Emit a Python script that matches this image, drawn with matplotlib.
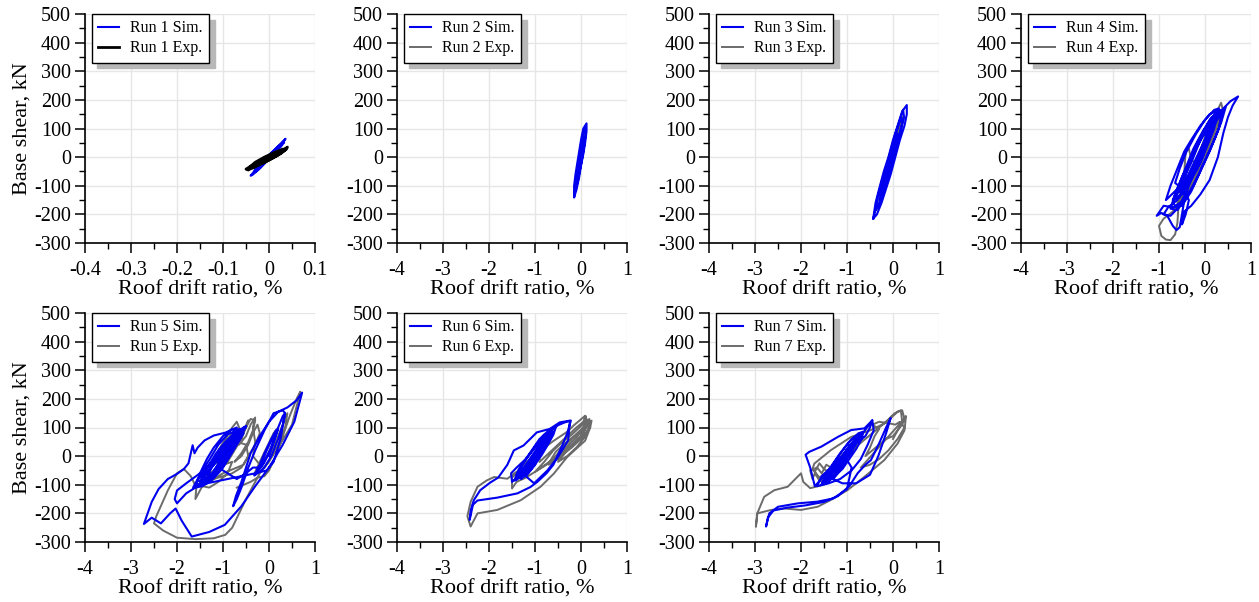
import matplotlib
matplotlib.use("Agg")
import matplotlib.pyplot as plt
from matplotlib.ticker import MultipleLocator, FixedLocator, FixedFormatter

plt.rcParams['font.family'] = ['Liberation Serif', 'DejaVu Serif']
plt.rcParams['axes.unicode_minus'] = False

# ---------------- data ----------------
run_names = ["Run 1", "Run 2", "Run 3", "Run 4", "Run 5", "Run 6", "Run 7"]

y_ticks = [-300, -200, -100, 0, 100, 200, 300, 400, 500]
y_ticklabels = ["-300", "-200", "-100", "0", "100", "200", "300", "400", "500"]
x_ticks_run1 = [-0.4, -0.3, -0.2, -0.1, 0.0, 0.1]
x_ticklabels_run1 = ["-0.4", "-0.3", "-0.2", "-0.1", "0", "0.1"]
x_ticks_other = [-4, -3, -2, -1, 0, 1]
x_ticklabels_other = ["-4", "-3", "-2", "-1", "0", "1"]

# (roof drift ratio %, base shear kN) pairs
run1_sim = [(0, 0), (0.01, 15), (0.02, 32), (0.03, 50), (0.036, 64), (0.03, 55), (0.015, 30), (0.0, 8),
            (-0.015, -20), (-0.03, -45), (-0.04, -65), (-0.036, -62), (-0.02, -40), (-0.005, -15),
            (0.01, 10), (0.025, 35), (0.033, 52), (0.025, 44), (0.01, 20), (-0.005, -2), (-0.02, -28),
            (-0.032, -50), (-0.028, -50), (-0.015, -30), (0.0, -5), (0.015, 22), (0.028, 45), (0.02, 38),
            (0.005, 12), (-0.01, -12), (-0.022, -35), (-0.015, -28), (0.0, -5), (0.01, 12), (0.0, 0)]
run1_exp = [(0, 0), (0.015, 12), (0.03, 25), (0.04, 35), (0.038, 28), (0.02, 12), (0.0, -5), (-0.02, -18),
            (-0.04, -32), (-0.05, -42), (-0.045, -45), (-0.03, -32), (-0.01, -18), (0.01, -2), (0.025, 12),
            (0.035, 25), (0.03, 28), (0.01, 15), (-0.01, 0), (-0.03, -18), (-0.042, -35), (-0.035, -38),
            (-0.02, -25), (0.0, -10), (0.02, 8), (0.033, 22), (0.025, 22), (0.005, 8), (-0.015, -8),
            (-0.03, -25), (-0.025, -30), (-0.01, -18), (0.005, -5), (0.02, 10), (0.01, 8), (0.0, 0)]

run2_sim = [(-0.15, -140), (-0.15, -100), (-0.12, -60), (-0.08, -20), (-0.04, 20), (0.0, 60), (0.05, 100),
            (0.12, 118), (0.12, 90), (0.09, 50), (0.05, 10), (0.0, -30), (-0.04, -70), (-0.1, -115),
            (-0.15, -140),
            (-0.13, -120), (-0.1, -80), (-0.07, -40), (-0.03, 0), (0.01, 40), (0.05, 80), (0.1, 105),
            (0.1, 80), (0.07, 40), (0.03, 0), (-0.02, -40), (-0.07, -85), (-0.12, -115),
            (-0.1, -90), (-0.06, -50), (-0.02, -10), (0.02, 30), (0.06, 70), (0.07, 55), (0.04, 15),
            (0.0, -25), (-0.05, -65), (0.0, 0)]
run2_exp = [(0, 0), (0.03, 40), (0.07, 80), (0.1, 95), (0.07, 60), (0.02, 5), (-0.04, -50), (-0.1, -105),
            (-0.13, -115), (-0.1, -80), (-0.05, -25), (0.01, 30), (0.06, 70), (0.04, 50), (-0.02, -10),
            (-0.07, -65), (-0.1, -90), (-0.05, -40), (0.02, 15), (0.0, 0)]

run3_sim = [(-0.43, -215), (-0.38, -160), (-0.3, -110), (-0.2, -50), (-0.1, 0), (0.0, 60), (0.1, 110),
            (0.2, 160), (0.3, 182), (0.3, 150), (0.25, 110), (0.15, 60), (0.05, 0), (-0.05, -60),
            (-0.15, -110), (-0.25, -160), (-0.35, -200), (-0.43, -215),
            (-0.38, -185), (-0.33, -140), (-0.25, -90), (-0.15, -40), (-0.05, 20), (0.05, 80), (0.15, 130),
            (0.22, 165), (0.24, 140), (0.18, 100), (0.1, 50), (0.0, -10), (-0.1, -70), (-0.2, -120),
            (-0.3, -170), (-0.38, -185),
            (-0.3, -160), (-0.25, -110), (-0.17, -60), (-0.08, -10), (0.02, 50), (0.1, 100), (0.18, 140),
            (0.2, 120), (0.12, 70), (0.05, 20), (-0.05, -40), (-0.15, -100), (-0.25, -140),
            (-0.2, -100), (-0.12, -50), (-0.03, 0), (0.05, 50), (0.1, 80), (0.08, 50), (0.0, 0),
            (-0.08, -50), (-0.15, -80), (0.0, 0)]
run3_exp = [(0, 0), (0.06, 50), (0.14, 110), (0.2, 140), (0.16, 100), (0.08, 40), (-0.02, -20),
            (-0.12, -80), (-0.25, -150), (-0.36, -185), (-0.33, -140), (-0.24, -80), (-0.13, -20),
            (-0.02, 40), (0.08, 95), (0.13, 80), (0.05, 20), (-0.06, -50), (-0.17, -110), (-0.28, -150),
            (-0.23, -100), (-0.12, -40), (0.0, 0)]

run4_sim = [(-0.15, 0), (0.0, 60), (0.2, 130), (0.4, 170), (0.45, 175), (0.35, 120), (0.2, 60), (0.0, -10),
            (-0.2, -80), (-0.4, -140), (-0.6, -185), (-0.75, -180),
            (-0.65, -130), (-0.5, -70), (-0.3, 0), (-0.1, 70), (0.1, 130), (0.3, 165), (0.4, 160),
            (0.3, 100), (0.1, 20), (-0.1, -50), (-0.3, -120), (-0.5, -170), (-0.7, -175),
            (-0.9, -170), (-1.05, -205), (-0.95, -195), (-0.82, -205), (-0.7, -240), (-0.62, -255),
            (-0.55, -245), (-0.5, -200), (-0.45, -150), (-0.35, -100), (-0.2, -40), (0.0, 40), (0.2, 110),
            (0.4, 170), (0.55, 195), (0.72, 212), (0.6, 180), (0.5, 140), (0.4, 85), (0.28, 0),
            (0.1, -80), (-0.1, -130), (-0.3, -170), (-0.45, -190), (-0.5, -235), (-0.42, -200),
            (-0.35, -150),
            (-0.5, -110), (-0.65, -90), (-0.55, -40), (-0.4, 20), (-0.2, 80), (0.0, 130), (0.2, 165),
            (0.3, 170), (0.35, 150), (0.3, 100), (0.15, 40), (-0.05, -30), (-0.25, -100), (-0.45, -150),
            (-0.65, -170), (-0.7, -160),
            (-0.6, -110), (-0.45, -60), (-0.3, 0), (-0.1, 60), (0.1, 110), (0.25, 140), (0.2, 100),
            (0.05, 40), (-0.1, -20), (-0.3, -80), (-0.5, -130), (-0.55, -120),
            (-0.45, -70), (-0.3, -20), (-0.15, 40), (0.0, 90), (0.15, 120), (0.1, 80), (-0.05, 20),
            (-0.2, -40), (-0.35, -90), (-0.4, -80),
            (-0.85, -150), (-0.75, -100), (-0.6, -40), (-0.45, 20), (-0.3, 60), (-0.1, 110), (0.1, 150),
            (0.25, 160), (0.2, 120), (0.0, 50), (-0.2, -20), (-0.4, -90), (-0.6, -150), (-0.8, -175),
            (-0.9, -200), (-0.75, -205), (-0.6, -180), (-0.4, -120),
            (-0.7, -150), (-0.55, -90), (-0.4, -30), (-0.25, 30), (-0.05, 90), (0.15, 140), (0.3, 155),
            (0.2, 110), (0.0, 40), (-0.15, -20), (-0.35, -85), (-0.55, -140), (-0.7, -150),
            (-0.6, -130), (-0.5, -80), (-0.35, -20), (-0.2, 40), (0.0, 100), (0.2, 140), (0.1, 90),
            (-0.05, 30), (-0.2, -30), (-0.4, -90), (-0.55, -120),
            (-0.5, -100), (-0.4, -50), (-0.25, 10), (-0.1, 60), (0.05, 100), (0.0, 60), (-0.15, 0),
            (-0.3, -50), (-0.45, -90),
            (-0.3, -40), (-0.15, 10), (0.0, 60), (0.05, 50), (-0.05, 0), (-0.2, -50), (-0.25, -40),
            (-0.15, 0)]
run4_exp = [(-0.15, 0), (0.0, 70), (0.2, 140), (0.35, 190), (0.38, 170), (0.3, 120), (0.1, 40), (-0.1, -30),
            (-0.3, -100), (-0.5, -150), (-0.7, -190), (-0.9, -215), (-1.0, -240), (-0.95, -275),
            (-0.85, -288), (-0.75, -290), (-0.65, -270), (-0.6, -230), (-0.58, -180), (-0.5, -130),
            (-0.35, -70), (-0.15, 10), (0.05, 80), (0.25, 140), (0.3, 130), (0.15, 70), (-0.05, 0),
            (-0.25, -70), (-0.45, -130), (-0.6, -160), (-0.5, -110), (-0.45, -50), (-0.42, 18),
            (-0.35, 30), (-0.3, -10), (-0.2, -20), (-0.05, 40), (0.1, 90), (0.0, 40), (-0.15, -20),
            (-0.3, -70)]

run5_sim = [(0, 0), (0.1, 50), (0.2, 100), (0.3, 140), (0.35, 150), (0.3, 110), (0.2, 60), (0.05, 0),
            (-0.1, -40), (-0.25, -60), (-0.32, -68), (-0.2, -30), (-0.1, 10), (0.05, 60), (0.15, 90),
            (0.2, 95), (0.12, 55), (0.0, 10), (-0.15, -35), (-0.25, -50), (-0.15, -20), (-0.05, 20),
            (0.1, 70), (0.15, 80), (0.05, 30), (-0.1, -20), (-0.2, -40),
            (-0.35, -40), (-0.5, -60), (-0.7, -80),
            (-0.9, -60), (-1.1, -40), (-1.3, -75), (-1.5, -95), (-1.65, -110), (-1.55, -80), (-1.35, -40),
            (-1.1, 10), (-0.9, 50), (-0.7, 85), (-0.5, 105), (-0.6, 80), (-0.8, 30), (-1.0, -20),
            (-1.2, -60), (-1.4, -90), (-1.45, -80), (-1.3, -45), (-1.1, 0), (-0.9, 40), (-0.7, 75),
            (-0.55, 100), (-0.65, 70), (-0.85, 20), (-1.05, -30), (-1.25, -70), (-1.45, -95), (-1.4, -70),
            (-1.2, -30), (-1.0, 20), (-0.8, 60), (-0.6, 95), (-0.7, 60), (-0.9, 10), (-1.1, -40),
            (-1.3, -80), (-1.35, -60), (-1.15, -20), (-0.95, 25), (-0.75, 70), (-0.8, 40), (-1.0, -10),
            (-1.2, -50), (-1.1, -30), (-0.9, 10), (-0.7, 50), (-0.6, 80), (-0.5, 105),
            (-0.6, 70), (-0.75, 30), (-0.9, -10), (-1.05, -50), (-1.25, -85), (-1.45, -105), (-1.6, -110),
            (-1.5, -60), (-1.35, -10), (-1.2, 30), (-1.0, 70), (-0.8, 95), (-0.55, 80), (-0.7, 40),
            (-0.85, 0), (-1.0, -40), (-1.2, -75), (-1.4, -95), (-1.55, -85), (-1.4, -40), (-1.25, 0),
            (-1.1, 40), (-0.9, 75), (-0.65, 95), (-0.65, 75), (-0.8, 45), (-0.95, 5), (-1.1, -35),
            (-1.3, -70), (-1.5, -90), (-1.45, -70), (-1.3, -30), (-1.15, 10), (-0.95, 50), (-0.75, 80),
            (-0.75, 40), (-0.9, 0), (-1.05, -35), (-1.2, -65), (-1.35, -80), (-1.25, -40), (-1.1, 0),
            (-0.95, 35), (-0.8, 60), (-0.95, 10), (-1.05, -20), (-1.15, -45), (-1.1, -20), (-1.0, 10),
            (-0.7, 100), (-0.95, 82), (-1.2, 72), (-1.4, 55), (-1.55, 30), (-1.62, 10), (-1.66, 38),
            (-1.7, 10), (-1.75, -25), (-1.85, -45), (-2.0, -62), (-2.2, -80), (-2.4, -115), (-2.55, -160),
            (-2.72, -237),
            (-2.55, -215), (-2.35, -235), (-2.15, -200), (-2.03, -183), (-1.9, -225), (-1.68, -281),
            (-1.3, -265), (-0.96, -240), (-0.6, -175), (-0.3, -105), (0.0, -40), (0.3, 40), (0.55, 120),
            (0.72, 222),
            (0.6, 195), (0.4, 170), (0.2, 155), (0.0, 120), (-0.2, 70), (-0.4, 10), (-0.5, -40),
            (-0.6, -90), (-0.72, -140), (-0.78, -175), (-0.7, -150), (-0.6, -110), (-0.45, -40),
            (-0.3, 20), (-0.1, 90), (0.1, 150), (0.3, 160), (0.35, 150), (0.25, 60), (0.1, -20),
            (-0.05, -50),
            (-0.3, -60), (-0.6, -70), (-0.9, -80), (-1.2, -90), (-1.5, -100), (-1.8, -130), (-2.0, -165),
            (-2.05, -150), (-2.0, -120), (-1.8, -95), (-1.5, -60), (-1.2, -20), (-1.0, 10)]
run5_exp = [(0, 0), (0.15, 50), (0.3, 110), (0.4, 150), (0.35, 100), (0.2, 40), (0.0, -20), (-0.15, -50),
            (-0.3, -55), (-0.2, -20), (-0.05, 30), (0.1, 80), (0.2, 100), (0.1, 50), (-0.05, 0),
            (-0.2, -30),
            (-0.35, 0), (-0.3, 50), (-0.35, 100), (-0.3, 135), (-0.4, 110), (-0.5, 70), (-0.65, 40),
            (-0.55, 90), (-0.45, 125), (-0.5, 100), (-0.65, 70), (-0.8, 30), (-0.9, 0), (-0.75, 40),
            (-0.6, 80), (-0.7, 120), (-0.8, 100), (-0.95, 60), (-1.1, 20), (-0.95, 50), (-0.8, 80),
            (-0.9, 40), (-1.05, 0), (-1.2, -30), (-1.05, -10), (-0.85, 20), (-0.7, 50), (-0.5, 40),
            (-0.45, 0), (-0.6, -40), (-0.8, -60), (-1.0, -70), (-1.2, -80), (-1.4, -95), (-1.5, -100),
            (-1.35, -70), (-1.2, -50), (-1.0, -30), (-0.8, -20), (-0.9, -60), (-1.1, -90), (-1.3, -110),
            (-1.45, -105),
            (-0.9, -20), (-0.75, 20), (-0.6, 60), (-0.5, 100), (-0.4, 130), (-0.3, 125), (-0.35, 90),
            (-0.45, 50), (-0.6, 10), (-0.75, -20), (-0.6, 0), (-0.45, 40), (-0.35, 80), (-0.25, 110),
            (-0.2, 80), (-0.3, 40), (-0.45, 0), (-0.55, -30), (-1.0, -60), (-1.45, -105),
            (-1.6, -150), (-1.58, -110), (-1.7, -70), (-1.85, -45), (-2.0, -60), (-2.2, -120),
            (-2.45, -210), (-2.5, -235), (-2.3, -260), (-2.0, -285), (-1.6, -290), (-1.2, -287),
            (-0.95, -275), (-0.8, -250), (-0.5, -150), (-0.2, -60), (0.2, 30), (0.5, 110), (0.68, 225),
            (0.6, 200), (0.45, 140), (0.3, 70), (0.15, 0), (0.0, -50), (-0.1, -70), (-0.25, -75),
            (-0.4, -90), (-0.55, -100), (-0.7, -110)]

run6_sim = [(-1.0, 0), (-0.85, 30), (-0.7, 60), (-0.6, 85), (-0.65, 70), (-0.8, 35), (-0.95, 0), (-1.1, -35),
            (-1.25, -65), (-1.4, -80), (-1.35, -60), (-1.2, -30), (-1.05, 5), (-0.9, 40), (-0.75, 70),
            (-0.62, 95), (-0.7, 70), (-0.85, 30), (-1.0, -5), (-1.15, -40), (-1.3, -70), (-1.42, -85),
            (-1.35, -70), (-1.2, -40), (-1.05, -5), (-0.9, 30), (-0.75, 60), (-0.65, 80), (-0.75, 50),
            (-0.9, 15), (-1.05, -20), (-1.2, -55), (-1.3, -60), (-1.15, -25), (-1.0, 10), (-0.85, 45),
            (-0.7, 75), (-0.8, 45), (-0.95, 10), (-1.1, -25), (-1.25, -50), (-1.1, -20), (-0.95, 15),
            (-0.8, 45), (-0.9, 20), (-1.05, -10), (-1.2, -40),
            (-1.45, -85), (-1.35, -45), (-1.2, -10), (-1.05, 25), (-0.9, 60), (-0.7, 90), (-0.55, 100),
            (-0.6, 75), (-0.72, 40), (-0.85, 5), (-1.0, -30), (-1.15, -60), (-1.3, -80), (-1.4, -65),
            (-1.25, -25), (-1.1, 10), (-0.95, 45), (-0.8, 75), (-0.65, 85), (-0.7, 60), (-0.8, 25),
            (-0.95, -10), (-1.1, -45), (-1.25, -70), (-1.3, -75), (-1.2, -40), (-1.05, -5), (-0.9, 30),
            (-0.75, 60), (-0.8, 35), (-0.9, 0), (-1.05, -35), (-1.2, -60), (-1.15, -40), (-1.05, -10),
            (-0.95, 20), (-0.85, 40), (-0.9, 15), (-1.0, -15), (-1.1, -35),
            (-1.5, -90), (-1.52, -60), (-1.4, -40), (-1.2, -10), (-1.0, 30), (-0.8, 70), (-0.6, 95),
            (-0.5, 108), (-0.35, 118), (-0.22, 124), (-0.3, 80), (-0.4, 40), (-0.5, 5), (-0.6, -30),
            (-0.75, -60), (-0.95, -90),
            (-1.1, -108), (-1.38, -130), (-1.82, -145), (-2.25, -155), (-2.35, -170), (-2.42, -223),
            (-2.4, -190), (-2.33, -154), (-2.19, -119), (-1.97, -92), (-1.8, -75), (-1.6, -30),
            (-1.46, 20), (-1.25, 37), (-0.96, 83), (-0.68, 95), (-0.46, 118), (-0.24, 124),
            (-0.28, 55), (-0.5, -3), (-0.73, -50), (-1.02, -95), (-1.2, -70), (-1.0, -30)]
run6_exp = [(-0.9, -20), (-0.7, 10), (-0.5, 40), (-0.3, 70), (-0.1, 100), (0.05, 120), (0.1, 140),
            (0.15, 110), (0.05, 80), (-0.1, 50), (-0.3, 20), (-0.5, -10), (-0.7, -30), (-0.6, -10),
            (-0.4, 30), (-0.2, 60), (0.0, 90), (0.15, 125), (0.2, 115), (0.1, 70), (-0.1, 30), (-0.3, 0),
            (-0.5, -20), (-0.35, 10), (-0.15, 45), (0.05, 80), (0.18, 130), (0.2, 100), (0.0, 60),
            (-0.2, 30), (-0.4, 5), (-0.6, -15), (-0.8, -35), (-1.0, -55),
            (-0.8, -20), (-0.6, 20), (-0.4, 50), (-0.2, 75), (0.0, 105), (0.12, 125), (0.05, 95),
            (-0.1, 65), (-0.3, 35), (-0.5, 5), (-0.7, -25), (-0.55, 15), (-0.35, 45), (-0.15, 70),
            (0.05, 100), (0.0, 70), (-0.2, 40), (-0.4, 15), (-0.6, -10), (-1.0, -55),
            (-1.2, -75), (-1.4, -90), (-1.5, -113), (-1.5, -75), (-1.4, -60), (-1.31, -38), (-1.1, -10),
            (-0.88, 20), (-0.59, 54), (-0.3, 85), (-0.16, 107), (0.09, 141), (0.15, 110), (0.23, 124),
            (0.2, 100), (0.09, 54), (-0.3, -3), (-0.59, -61), (-0.88, -107), (-1.31, -154),
            (-1.82, -188), (-2.25, -200), (-2.4, -246), (-2.47, -210), (-2.4, -160), (-2.25, -107),
            (-2.05, -85), (-1.89, -73), (-1.6, -79), (-1.45, -60), (-1.3, -45), (-1.1, -30), (-0.9, -10)]

run7_sim = [(-1.05, 0), (-0.9, 30), (-0.75, 60), (-0.65, 85), (-0.72, 65), (-0.85, 35), (-1.0, 0),
            (-1.15, -30), (-1.3, -60), (-1.45, -85), (-1.55, -95), (-1.45, -70), (-1.3, -40), (-1.15, -10),
            (-1.0, 25), (-0.85, 55), (-0.7, 80), (-0.78, 55), (-0.92, 25), (-1.08, -10), (-1.22, -45),
            (-1.4, -75), (-1.35, -55), (-1.2, -25), (-1.05, 10), (-0.9, 40), (-0.78, 65), (-0.85, 40),
            (-1.0, 10), (-1.15, -20), (-1.3, -50), (-1.2, -35), (-1.05, -5), (-0.95, 20), (-0.8, 50),
            (-0.9, 30), (-1.05, 0), (-1.2, -30), (-1.1, -15), (-0.95, 15),
            (-1.55, -100), (-1.45, -60), (-1.3, -25), (-1.15, 10), (-0.95, 50), (-0.75, 80), (-0.65, 85),
            (-0.68, 60), (-0.8, 25), (-0.95, -10), (-1.1, -45), (-1.3, -75), (-1.45, -95), (-1.5, -80),
            (-1.35, -40), (-1.2, -5), (-1.05, 30), (-0.9, 60), (-0.75, 75), (-0.8, 45), (-0.9, 15),
            (-1.05, -20), (-1.2, -55), (-1.4, -85), (-1.35, -70), (-1.25, -35), (-1.1, 0), (-0.95, 35),
            (-0.85, 50), (-0.9, 25), (-1.0, -5), (-1.15, -40), (-1.3, -65), (-1.2, -45), (-1.1, -15),
            (-1.0, 15), (-0.92, 30), (-0.98, 5), (-1.08, -25),
            (-0.8, 45), (-0.6, 70), (-0.5, 100), (-0.45, 125), (-0.42, 90), (-0.55, 40), (-0.7, -10),
            (-0.9, -50), (-1.15, -80), (-1.4, -95), (-1.65, -105), (-1.55, -70), (-1.35, -40), (-1.1, 0),
            (-0.9, 40), (-0.7, 70), (-0.45, 125), (-0.62, 97), (-0.91, 91), (-1.2, 67), (-1.56, 33),
            (-1.82, 15), (-1.9, 5), (-1.8, -40), (-1.7, -105), (-1.5, -70), (-1.25, -30), (-1.05, 0),
            (-0.9, -40), (-1.0, -115), (-1.3, -148), (-1.64, -159), (-2.07, -165), (-2.5, -177),
            (-2.69, -200), (-2.76, -246), (-2.72, -215), (-2.6, -190), (-2.3, -180), (-1.9, -172),
            (-1.5, -160), (-1.2, -140), (-0.95, -105), (-0.77, -60), (-0.6, -30), (-0.48, -14), (-0.3, 45),
            (-0.15, 100), (-0.05, 133), (-0.15, 80), (-0.32, 0), (-0.5, -65), (-0.8, -95), (-1.1, -95),
            (-1.3, -80), (-1.1, -40), (-1.0, 0)]
run7_exp = [(-1.0, -20), (-1.15, -35), (-1.3, -55), (-1.45, -70), (-1.6, -85), (-1.7, -60), (-1.75, -80),
            (-1.8, -50), (-1.65, -40), (-1.55, -60), (-1.45, -30), (-1.3, -45), (-1.2, -15), (-1.05, 0),
            (-0.9, 20), (-0.8, 35), (-0.9, 10), (-1.05, -10), (-1.2, -40), (-1.35, -60), (-1.5, -45),
            (-1.6, -25), (-1.7, -55), (-1.6, -75), (-1.4, -50), (-1.25, -25), (-1.1, 5), (-0.95, 25),
            (-0.75, 40), (-0.6, 60), (-0.45, 80), (-0.3, 100), (-0.15, 120), (0.0, 140), (0.1, 155),
            (0.2, 160), (0.25, 130), (0.28, 140), (0.2, 110), (0.1, 90), (0.0, 70), (-0.15, 60),
            (-0.3, 40), (-0.45, 20), (-0.6, 0), (-0.5, 30), (-0.4, 70), (-0.3, 95), (-0.45, 110),
            (-0.3, 120), (-0.1, 115), (0.05, 110), (0.15, 120), (0.25, 100), (0.1, 60), (-0.1, 20),
            (-0.3, -10), (-0.5, -30), (-0.7, -40),
            (0.28, 137), (0.25, 90), (0.1, 44), (-0.19, -14), (-0.62, -72), (-0.99, -119), (-1.35, -153),
            (-1.64, -177), (-2.0, -188), (-2.36, -183), (-2.65, -188), (-2.95, -200), (-2.98, -246),
            (-2.95, -200), (-2.8, -142), (-2.58, -119), (-2.29, -107), (-2.0, -60), (-1.95, -90),
            (-1.8, -112), (-1.5, -100), (-1.75, -45), (-1.71, -26), (-1.35, 21), (-0.91, 67), (-0.48, 91),
            (-0.19, 114), (0.03, 149), (0.1, 155), (0.17, 160), (0.2, 120), (0.0, 60)]

sim_series = [run1_sim, run2_sim, run3_sim, run4_sim, run5_sim, run6_sim, run7_sim]
exp_series = [run1_exp, run2_exp, run3_exp, run4_exp, run5_exp, run6_exp, run7_exp]

# ---------------- figure ----------------
W, H = 1259, 602
fig = plt.figure(figsize=(W / 100, H / 100), dpi=100)
fig.patch.set_facecolor('white')

col_left = [85, 397, 709, 1021]
row_top = [14, 313]
ax_w, ax_h = 230, 229

SIM_COLOR = '#0000ee'
EXP_COLOR = '#6b6b6b'

for i, name in enumerate(run_names):
    r, c = divmod(i, 4)
    left = col_left[c]
    top = row_top[r]
    ax = fig.add_axes([left / W, 1 - (top + ax_h) / H, ax_w / W, ax_h / H])

    sx, sy = zip(*sim_series[i])
    ex, ey = zip(*exp_series[i])
    if i == 0:
        l_sim, = ax.plot(sx, sy, color=SIM_COLOR, lw=1.5, zorder=3)
        l_exp, = ax.plot(ex, ey, color='black', lw=2.0, zorder=4)
    else:
        l_exp, = ax.plot(ex, ey, color=EXP_COLOR, lw=1.4, zorder=3)
        l_sim, = ax.plot(sx, sy, color=SIM_COLOR, lw=1.5, zorder=4)

    ax.set_ylim(-300, 500)
    if i == 0:
        ax.set_xlim(-0.4, 0.1)
        ax.xaxis.set_major_locator(FixedLocator(x_ticks_run1))
        ax.xaxis.set_major_formatter(FixedFormatter(x_ticklabels_run1))
        ax.xaxis.set_minor_locator(MultipleLocator(0.05))
    else:
        ax.set_xlim(-4, 1)
        ax.xaxis.set_major_locator(FixedLocator(x_ticks_other))
        ax.xaxis.set_major_formatter(FixedFormatter(x_ticklabels_other))
        ax.xaxis.set_minor_locator(MultipleLocator(0.5))
    ax.yaxis.set_major_locator(FixedLocator(y_ticks))
    ax.yaxis.set_major_formatter(FixedFormatter(y_ticklabels))
    ax.yaxis.set_minor_locator(MultipleLocator(50))

    for s in ['top', 'right']:
        ax.spines[s].set_visible(False)
    for s in ['left', 'bottom']:
        ax.spines[s].set_linewidth(1.2)
        ax.spines[s].set_color('black')
    ax.grid(True, which='major', color='#e6e6e6', lw=1.0, zorder=0)
    ax.set_axisbelow(True)
    ax.tick_params(which='major', direction='out', length=7, width=1.1, labelsize=14.5, pad=3,
                   color='black')
    ax.tick_params(which='minor', direction='out', length=4, width=1.0, color='black')
    ax.tick_params(axis='x', which='major', pad=6)

    ax.set_xlabel("Roof drift ratio, %", fontsize=16, labelpad=0)
    if c == 0:
        ax.set_ylabel("Base shear, kN", fontsize=16, labelpad=2)

    leg = ax.legend([l_sim, l_exp], [name + " Sim.", name + " Exp."], loc='upper left',
                    bbox_to_anchor=(0.03, 1.0), borderaxespad=0.0, fontsize=11.5,
                    frameon=True, fancybox=False,
                    shadow={'color': '#b8b8b8', 'alpha': 1.0, 'ox': 4, 'oy': -4},
                    framealpha=1.0, edgecolor='black', handlelength=1.3, handletextpad=0.7,
                    borderpad=0.4, labelspacing=0.25)
    leg.get_frame().set_linewidth(1.0)
    leg.set_zorder(10)

fig.savefig("out.png", dpi=100)
